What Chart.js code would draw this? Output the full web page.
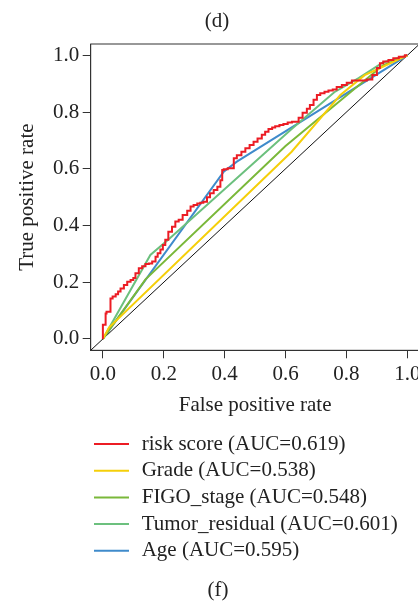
<!DOCTYPE html>
<html>
<head>
<meta charset="utf-8">
<script src="https://cdn.jsdelivr.net/npm/chart.js@4.4.1/dist/chart.umd.min.js"></script>
<style>
  html, body { margin: 0; padding: 0; background: #fff; overflow: hidden; }
  #wrap { width: 418px; height: 603px; overflow: hidden; position: relative; }
  canvas { display: block; }
</style>
</head>
<body>
<div id="wrap"><canvas id="roc" width="430" height="603"></canvas></div>
<script>
// ROC curves
const seriesNames = ['risk score', 'Grade', 'FIGO_stage', 'Tumor_residual', 'Age'];
const aucValues = [0.619, 0.538, 0.548, 0.601, 0.595];
const seriesColors = ['#ec1c24', '#f5cf0a', '#7ab83a', '#6cc07e', '#3f8bcb'];

const riskFpr = [0, 0, 0.009, 0.012, 0.025, 0.032, 0.042, 0.05, 0.058, 0.069, 0.08, 0.091, 0.1, 0.107,
  0.118, 0.129, 0.14, 0.151, 0.162, 0.173, 0.18, 0.189, 0.197, 0.205, 0.215, 0.227, 0.238, 0.249,
  0.262, 0.277, 0.288, 0.298, 0.31, 0.32, 0.33, 0.342, 0.352, 0.364, 0.376, 0.386, 0.392, 0.397,
  0.41, 0.43, 0.44, 0.455, 0.468, 0.482, 0.495, 0.508, 0.522, 0.533, 0.544, 0.556, 0.566, 0.58,
  0.593, 0.607, 0.621, 0.643, 0.656, 0.67, 0.68, 0.692, 0.703, 0.714, 0.728, 0.741, 0.755, 0.768,
  0.785, 0.801, 0.818, 0.834, 0.85, 0.867, 0.885, 0.9, 0.91, 0.921, 0.938, 0.954, 0.972, 0.992, 1];
const riskTpr = [0, 0.043, 0.05, 0.09, 0.096, 0.143, 0.15, 0.158, 0.167, 0.178, 0.19, 0.202, 0.208, 0.215,
  0.232, 0.249, 0.256, 0.264, 0.266, 0.273, 0.29, 0.302, 0.315, 0.331, 0.35, 0.378, 0.396, 0.414,
  0.42, 0.437, 0.452, 0.467, 0.472, 0.478, 0.48, 0.484, 0.5, 0.514, 0.525, 0.537, 0.56, 0.596,
  0.598, 0.602, 0.637, 0.648, 0.66, 0.672, 0.684, 0.695, 0.707, 0.72, 0.731, 0.74, 0.746, 0.75,
  0.754, 0.758, 0.763, 0.766, 0.78, 0.798, 0.812, 0.825, 0.843, 0.86, 0.866, 0.872, 0.876, 0.88,
  0.888, 0.895, 0.903, 0.911, 0.911, 0.911, 0.915, 0.931, 0.955, 0.972, 0.978, 0.984, 0.99, 0.995, 1];

const gradeFpr = [0, 0.02, 0.62, 0.78, 0.86, 0.9, 1];
const gradeTpr = [0, 0.04, 0.66, 0.86, 0.93, 0.95, 1];

const figoFpr = [0, 0.14, 0.6, 0.92, 1];
const figoTpr = [0, 0.21, 0.68, 0.965, 1];

const tumorFpr = [0, 0.156, 0.22, 0.62, 0.76, 0.84, 0.92, 1];
const tumorTpr = [0, 0.296, 0.355, 0.74, 0.87, 0.92, 0.975, 1];

const ageFpr = [0, 0.397, 0.44, 1];
const ageTpr = [0, 0.59, 0.625, 1];

const axisTicks = [0, 0.2, 0.4, 0.6, 0.8, 1.0];
const axisMin = -0.04, axisMax = 1.04;

const textColor = '#222';
const axisColor = '#333';
const serif = '"Liberation Serif", "DejaVu Serif", serif';
const fontSize = 21;

function toPoints(xs, ys) {
  return xs.map((x, i) => ({ x: x, y: ys[i] }));
}

const curves = [
  toPoints(riskFpr, riskTpr),
  toPoints(gradeFpr, gradeTpr),
  toPoints(figoFpr, figoTpr),
  toPoints(tumorFpr, tumorTpr),
  toPoints(ageFpr, ageTpr)
];

const datasets = curves.map((pts, i) => ({
  label: seriesNames[i],
  data: pts,
  borderColor: seriesColors[i],
  borderWidth: 2,
  pointRadius: 0,
  tension: 0,
  stepped: i === 0 ? 'after' : false
}));
// reference diagonal across the whole plotting region
datasets.push({
  label: 'diagonal',
  data: [{ x: axisMin, y: axisMin }, { x: axisMax, y: axisMax }],
  borderColor: '#111',
  borderWidth: 1,
  pointRadius: 0
});

const frameAndLegend = {
  id: 'frameAndLegend',
  beforeDatasetsDraw(chart) {
    const a = chart.chartArea;
    const ctx = chart.ctx;
    ctx.save();
    ctx.strokeStyle = axisColor;
    ctx.lineWidth = 1;
    ctx.strokeRect(a.left, a.top, a.right - a.left, a.bottom - a.top);
    ctx.restore();
  },
  afterDraw(chart) {
    const ctx = chart.ctx;
    ctx.save();
    ctx.font = fontSize + 'px ' + serif;
    ctx.fillStyle = textColor;
    ctx.textBaseline = 'middle';
    ctx.textAlign = 'center';
    ctx.fillText('(d)', 217, 21);
    ctx.fillText('(f)', 218, 590);

    ctx.textAlign = 'left';
    seriesNames.forEach((name, i) => {
      const y = 444 + i * 26.7;
      ctx.strokeStyle = seriesColors[i];
      ctx.lineWidth = 2;
      ctx.beginPath();
      ctx.moveTo(94, y);
      ctx.lineTo(129, y);
      ctx.stroke();
      ctx.fillText(name + ' (AUC=' + aucValues[i].toFixed(3) + ')', 141.7, y);
    });
    ctx.restore();
  }
};

function makeAxis(titleText, isX) {
  return {
    type: 'linear',
    min: axisMin,
    max: axisMax,
    afterBuildTicks: s => { s.ticks = axisTicks.map(v => ({ value: v })); },
    afterFit: s => {
      if (isX) s.height = 67.3; else s.width = 90.7;
    },
    grid: {
      drawOnChartArea: false,
      drawTicks: true,
      tickLength: 8,
      color: axisColor,
      tickColor: axisColor
    },
    border: { display: true, color: axisColor, width: 1 },
    ticks: {
      padding: isX ? 4 : 3.4,
      color: textColor,
      font: { family: serif, size: fontSize },
      maxRotation: 0,
      autoSkip: false,
      callback: v => v.toFixed(1)
    },
    title: {
      display: true,
      text: titleText,
      color: textColor,
      font: { family: serif, size: fontSize },
      padding: { top: 14.7, bottom: 0 }
    }
  };
}

new Chart(document.getElementById('roc'), {
  type: 'line',
  data: { datasets: datasets },
  options: {
    responsive: false,
    animation: false,
    layout: { padding: { left: 0, top: 44, right: 10.5, bottom: 185.4 } },
    plugins: {
      legend: { display: false },
      tooltip: { enabled: false }
    },
    scales: {
      x: makeAxis('False positive rate', true),
      y: makeAxis('True positive rate', false)
    }
  },
  plugins: [frameAndLegend]
});
</script>
</body>
</html>
